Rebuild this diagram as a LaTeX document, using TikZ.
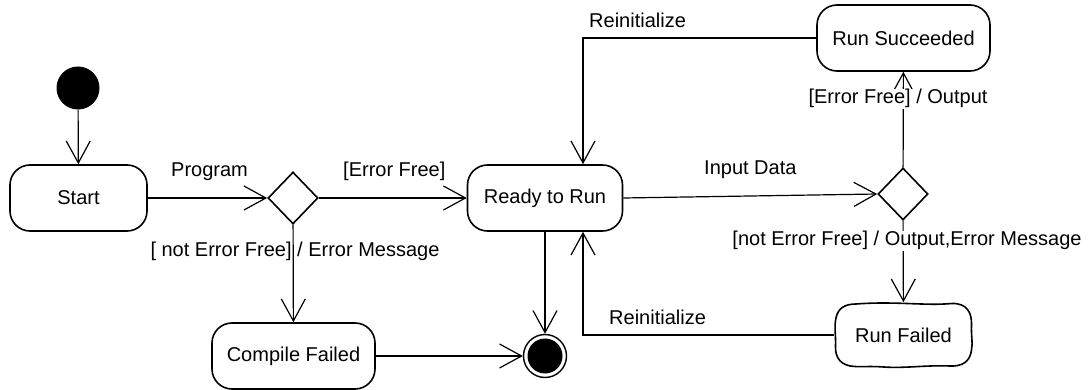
\documentclass[tikz,border=0pt]{standalone}
\usepackage{fontspec}
\setmainfont{Liberation Sans}
\usetikzlibrary{shapes.geometric,arrows.meta}
\tikzset{
  state/.style={draw, line width=1.6pt, rounded corners=20pt, align=center, inner sep=0pt},
  wobbly/.style={line width=1.6pt, align=center, inner sep=0pt},
  decision/.style={draw, diamond, line width=1.6pt, inner sep=0pt, minimum width=50pt, minimum height=52pt},
  initial/.style={circle, fill=black, minimum size=43pt, inner sep=0pt},
  finalst/.style={circle, draw, line width=1.4pt, minimum size=43pt, inner sep=0pt,
    path picture={\fill (path picture bounding box.center) circle (17.5pt);}},
  conn/.style={line width=1.2pt, -{Straight Barb[length=22pt,width=24pt,line width=1.2pt]}},
  lbl/.style={inner sep=1pt, font=\fontsize{20}{24}\selectfont},
  lblw/.style={lbl, fill=white}
}
\begin{document}
\begin{tikzpicture}[x=1pt, y=-1pt, font=\fontsize{20}{24}\selectfont]
\useasboundingbox[fill=white] (0,0) rectangle (1088,390);
% nodes
\node[initial] (init) at (78,88) {};
\node[state, minimum width=137pt, minimum height=66pt] (start) at (78.5,198) {Start};
\node[decision] (d1) at (293,198) {};
\node[state, minimum width=155pt, minimum height=66pt] (ready) at (545,198) {Ready to Run};
\node[decision] (d2) at (903,194) {};
\node[state, minimum width=173pt, minimum height=66pt] (succ) at (903.5,38) {Run Succeeded};
\node[wobbly, minimum width=137pt, minimum height=64pt] (failed) at (903.5,335) {Run Failed};
\node[state, minimum width=163pt, minimum height=66pt] (compile) at (293.5,356) {Compile Failed};
\node[finalst] (final) at (545,356) {};
% hand-drawn outline of Run Failed
\draw[line width=1.6pt] (856,304)
  .. controls (895,301) and (925,306) .. (952,303.5)
  .. controls (967,303) and (972,313) .. (971.5,325)
  .. controls (971,335) and (973,343) .. (971.5,350)
  .. controls (970,362) and (962,366.5) .. (950,366)
  .. controls (925,365) and (905,368.5) .. (884,367)
  .. controls (870,366) and (862,367) .. (855,366.5)
  .. controls (841,366) and (835,358) .. (835.5,346)
  .. controls (836,336) and (834,326) .. (836,318)
  .. controls (838,308) and (845,304) .. cycle;
% connectors
\draw[conn] (init) -- (start);
\draw[conn] (start) -- (d1);
\draw[conn] (d1) -- (ready);
\draw[conn] (d1) -- (compile);
\draw[conn] (compile) -- (final);
\draw[conn] (ready.south) -- (final.north);
\draw[conn] (ready.east) -- (d2.west);
\draw[conn] (d2) -- (succ);
\draw[conn] (d2) -- (failed);
\draw[conn] (succ.west) -| ([xshift=38pt]ready.north);
\draw[conn] (failed.west) -| ([xshift=38pt]ready.south);
% labels
\node[lbl, anchor=base west] (lprog) at (170,177) {Program};
\node[lbl, anchor=base west] (lef1) at (342,177) {[Error Free]};
\node[lbl, anchor=base] (lnef1) at (295,257) {[ not Error Free] / Error Message};
\node[lbl, anchor=base west] (linput) at (703,175) {Input Data};
\node[lblw, anchor=base] (lef2) at (898,104) {[Error Free] / Output};
\node[lblw, anchor=base] (lnef2) at (907,246) {[not Error Free] / Output,Error Message};
\node[lbl, anchor=base west] (lre1) at (588,28) {Reinitialize};
\node[lbl, anchor=base west] (lre2) at (608,324) {Reinitialize};
\end{tikzpicture}
\end{document}
